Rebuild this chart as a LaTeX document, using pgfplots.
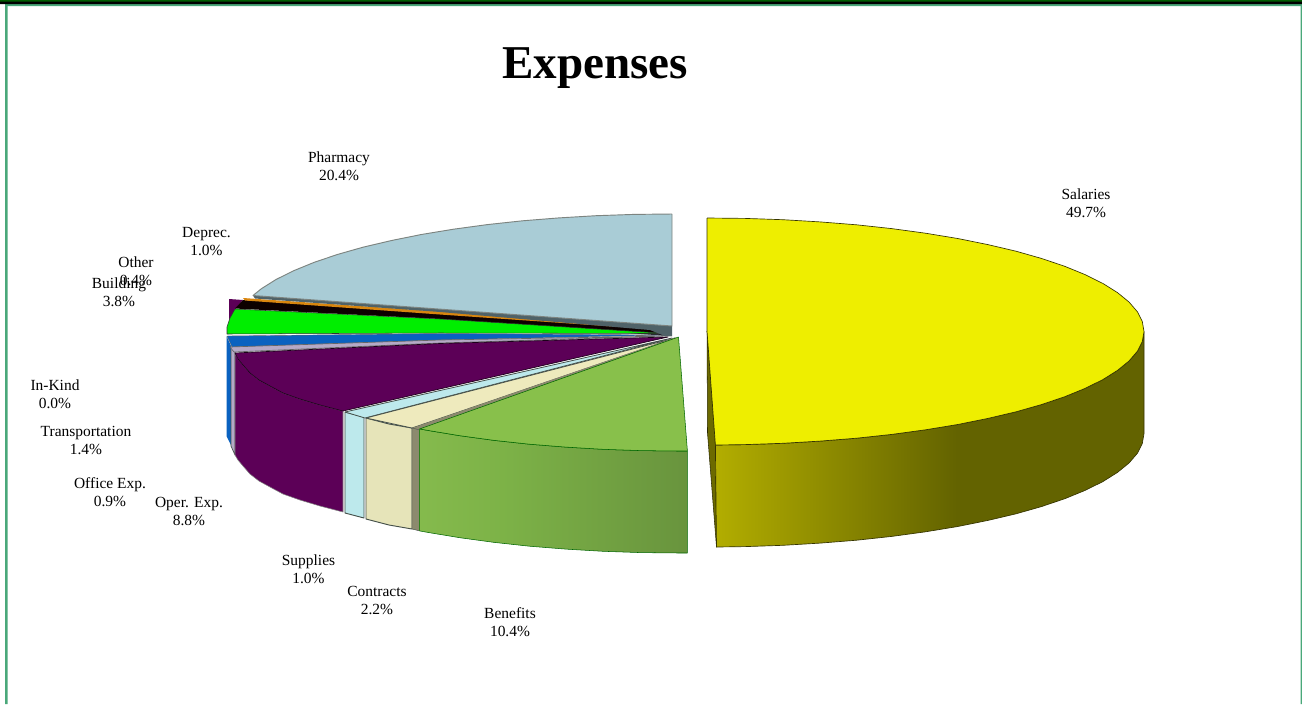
\documentclass[border=0pt]{standalone}
\usepackage{pgfplots}
\pgfplotsset{compat=1.18}
\usepackage{fontspec}
\setmainfont{Liberation Serif}

\definecolor{salTop}{HTML}{EEEE00}
\definecolor{salSide}{HTML}{6C6A00}
\definecolor{benTop}{HTML}{88C04B}
\definecolor{contractTop}{HTML}{EEEABD}
\definecolor{contractWall}{HTML}{E6E4B9}
\definecolor{contractCut}{HTML}{8C8A6E}
\definecolor{suppliesTop}{HTML}{BDE9EC}
\definecolor{operExp}{HTML}{5C0057}
\definecolor{officeExp}{HTML}{B5A9C6}
\definecolor{transport}{HTML}{0A62C0}
\definecolor{building}{HTML}{00EE00}
\definecolor{deprec}{HTML}{D9860F}
\definecolor{pharmacy}{HTML}{A9CCD6}
\definecolor{pharmacyCut}{HTML}{4F6268}
\definecolor{frameGreen}{HTML}{4AA87A}
\definecolor{edgeGrey}{HTML}{45504A}

% Side walls of the two large slices fade from left to right
\pgfdeclarehorizontalshading{salwall}{100bp}{rgb(0bp)=(.70,.68,0); rgb(25bp)=(.70,.68,0); rgb(53bp)=(.39,.39,0); rgb(100bp)=(.39,.39,0)}
\pgfdeclarehorizontalshading{benwall}{100bp}{rgb(0bp)=(.52,.73,.30); rgb(25bp)=(.52,.73,.30); rgb(40bp)=(.49,.70,.28); rgb(75bp)=(.41,.58,.24); rgb(100bp)=(.41,.58,.24)}

\newcommand{\pielabel}[3]{\node[align=center,inner sep=0pt,text=black,font=\fontsize{11.6}{13.6}\selectfont] at (axis cs:#1,#2) {#3};}

\begin{document}
\begin{tikzpicture}
\begin{axis}[
  width=976.5pt, height=528pt, scale only axis,
  xmin=0, xmax=1302, ymin=0, ymax=704, y dir=reverse,
  hide axis, clip=true,
  every axis plot/.append style={line join=round},
]
% page background and frame
\addplot[fill=white,draw=none] coordinates {(0,0)(1302,0)(1302,704)(0,704)(0,0)};
\addplot[fill=frameGreen,draw=none] coordinates {(5,3)(1302,3)(1302,6)(5,6)(5,3)};
\addplot[fill=frameGreen,draw=none] coordinates {(5,3)(7.5,3)(7.5,704)(5,704)(5,3)};
\addplot[fill=frameGreen,draw=none] coordinates {(1300.5,3)(1302,3)(1302,704)(1300.5,704)(1300.5,3)};
\addplot[fill=black,draw=none] coordinates {(0,0)(1302,0)(1302,4)(0,4)(0,0)};
\addplot[fill=black!40!green!60!black,draw=none] coordinates {(0,0)(1302,0)(1302,1.5)(0,1.5)(0,0)};

% left-hand thin slices, back to front
\addplot[fill=operExp,draw=none] coordinates {(229,299)(243,300)(236,308)(229,320)(229,299)};
\addplot[fill=transport,draw=none] coordinates {(226.5,336)(231.5,347)(231.5,446)(226.5,436)(226.5,336)};
\addplot[fill=officeExp,draw=edgeGrey,line width=.5pt] coordinates {(231,347)(235,352)(235,455)(231,446)(231,347)};

\addplot[fill=black!95!red,draw=none] coordinates {(243,300)(440,312.5)(650,329)(672,336)(668,336)(440,319)(235,308.5)(243,300)};
\addplot[fill=deprec,draw=none] coordinates {(243,298)(440,311.5)(620,327)(440,314.5)(245,300.5)(243,298)};
\addplot[fill=building,draw=black!80,line width=.4pt] coordinates {(235,309)(230,318)(227,327)(227,334)(440,333)(668,333.5)(440,319)(235,309)};
\addplot[fill=transport,draw=black!60,line width=.3pt] coordinates {(227,336)(232,347)(440,340)(668,335)(440,333.5)(227,336)};
\addplot[fill=officeExp,draw=black!60,line width=.5pt] coordinates {(230,347)(234,352)(440,343)(668,336)(440,340)(230,347)};

% Oper. Exp. wall and top
\addplot[fill=operExp,draw=black!50,line width=.4pt] coordinates {
  (235,353)(238,359)(243,365)(250,373)(259,380)(270,386)(283,393)(300,399)(320,405)(343,411)
  (343,512)(320,506)(300,500)(283,494)(270,487)(259,481)(250,474)(243,466)(238,460)(235,455)(235,353)};
\addplot[fill=operExp,draw=black!70!operExp,line width=.5pt] coordinates {
  (235,353)(238,359)(243,365)(250,373)(259,380)(270,386)(283,393)(300,399)(320,405)(343,411)
  (668,337)(440,343.5)(235,353)};

% Supplies
\addplot[fill=suppliesTop,draw=edgeGrey,line width=.7pt] coordinates {(345,412)(364,417)(364,518)(345,513)(345,412)};
\addplot[fill=suppliesTop,draw=edgeGrey,line width=.6pt] coordinates {(345,412)(365,418)(672,338)(345,412)};

% Contracts
\addplot[fill=contractWall,draw=edgeGrey,line width=.7pt] coordinates {(366,418)(389,424)(412,428)(412,529)(389,525)(366,519)(366,418)};
\addplot[fill=contractTop,draw=edgeGrey,line width=.6pt] coordinates {(366,418)(412,428)(675,338)(366,418)};
\addplot[fill=contractCut,draw=none] coordinates {(412,428)(420,430)(678,338)(675,337.5)(412,428)};
\addplot[fill=contractCut,draw=edgeGrey,line width=.3pt] coordinates {(412,428)(420,430)(420,531)(412,529)(412,428)};

% Benefits
\addplot[shade,shading=benwall,draw=black!60!green,line width=.4pt] coordinates {
  (687.4,451)(679,451)(640.9,450.6)(603.1,449.3)(565.9,447.1)(529.5,444.2)(494.3,440.4)(460.5,435.8)(428.3,430.5)(419.7,428.9)
  (419.7,530.9)(428.3,532.5)(460.5,537.8)(494.3,542.4)(529.5,546.2)(565.9,549.1)(603.1,551.3)(640.9,552.6)(679,553)(687.4,553)(687.4,451)};
\addplot[fill=benTop,draw=black!60!green,line width=.4pt] coordinates {
  (678.5,337)(687.4,451)(679,451)(640.9,450.6)(603.1,449.3)(565.9,447.1)(529.5,444.2)(494.3,440.4)(460.5,435.8)(428.3,430.5)(419.7,428.9)(678.5,337)};

% Pharmacy
\addplot[fill=pharmacyCut,draw=none] coordinates {(253,295.5)(672,326)(672,336)(665,336)(650,330)(440,312)(255,298.5)(253,295.5)};
\addplot[fill=pharmacy,draw=edgeGrey!70!white,line width=.7pt] coordinates {
  (672,214)(633.9,214.4)(596.1,215.7)(558.9,217.9)(522.5,220.8)(487.3,224.6)(453.5,229.2)(421.3,234.5)
  (391.1,240.6)(363,247.2)(337.3,254.5)(314,262.4)(293.6,270.75)(276,279.5)(261.4,288.7)(253,295.5)
  (672,326)(672,214)};

% Salaries: cut face, outer wall, top
\addplot[fill=salSide,draw=black!60!salSide,line width=.4pt] coordinates {(707,331)(715.4,445)(716.5,547)(707.5,433)(707,331)};
\addplot[shade,shading=salwall,draw=black!50!salSide,line width=.5pt] coordinates {
  (1144,331.5)(1142.3,341.4)(1137.4,351.2)(1129.1,360.9)(1117.6,370.3)(1103,379.5)(1085.4,388.25)(1065,396.6)(1041.7,404.5)
  (1016,411.8)(987.9,418.4)(957.7,424.5)(925.5,429.8)(891.7,434.4)(856.5,438.2)(820.1,441.1)(782.9,443.3)(745.1,444.6)(715.4,445)
  (716.5,547)(745.1,546.6)(782.9,545.3)(820.1,543.1)(856.5,540.2)(891.7,536.4)(925.5,531.8)(957.7,526.5)(987.9,520.4)(1016,513.8)
  (1041.7,506.5)(1065,498.6)(1085.4,490.25)(1103,481.5)(1117.6,472.3)(1129.1,462.9)(1137.4,453.2)(1142.3,443.4)(1144,433.5)(1144,331.5)};
\addplot[fill=salTop,draw=black!50!salSide,line width=.5pt] coordinates {
  (707,218)(745.1,218.4)(782.9,219.7)(820.1,221.9)(856.5,224.8)(891.7,228.6)(925.5,233.2)(957.7,238.5)(987.9,244.6)
  (1016,251.2)(1041.7,258.5)(1065,266.4)(1085.4,274.75)(1103,283.5)(1117.6,292.7)(1129.1,302.1)(1137.4,311.8)(1142.3,321.6)(1144,331.5)
  (1142.3,341.4)(1137.4,351.2)(1129.1,360.9)(1117.6,370.3)(1103,379.5)(1085.4,388.25)(1065,396.6)(1041.7,404.5)(1016,411.8)
  (987.9,418.4)(957.7,424.5)(925.5,429.8)(891.7,434.4)(856.5,438.2)(820.1,441.1)(782.9,443.3)(745.1,444.6)(715.4,445)(707,331)(707,218)};

% title and slice labels
\node[inner sep=0pt,font=\fontsize{35.3}{40}\selectfont\bfseries] at (axis cs:595,68) {Expenses};
\pielabel{339}{166}{Pharmacy\\20.4\%}
\pielabel{1086}{203}{Salaries\\49.7\%}
\pielabel{206.5}{241.5}{Deprec.\\1.0\%}
\pielabel{136}{271}{Other\\0.4\%}
\pielabel{119}{292}{Building\\3.8\%}
\pielabel{55}{394.5}{In-Kind\\0.0\%}
\pielabel{86}{440.5}{Transportation\\1.4\%}
\pielabel{110}{492.5}{Office Exp.\\0.9\%}
\pielabel{189}{511.5}{Oper. Exp.\\8.8\%}
\pielabel{308.5}{569.5}{Supplies\\1.0\%}
\pielabel{377}{600.5}{Contracts\\2.2\%}
\pielabel{510}{622.5}{Benefits\\10.4\%}
\end{axis}
\end{tikzpicture}
\end{document}
